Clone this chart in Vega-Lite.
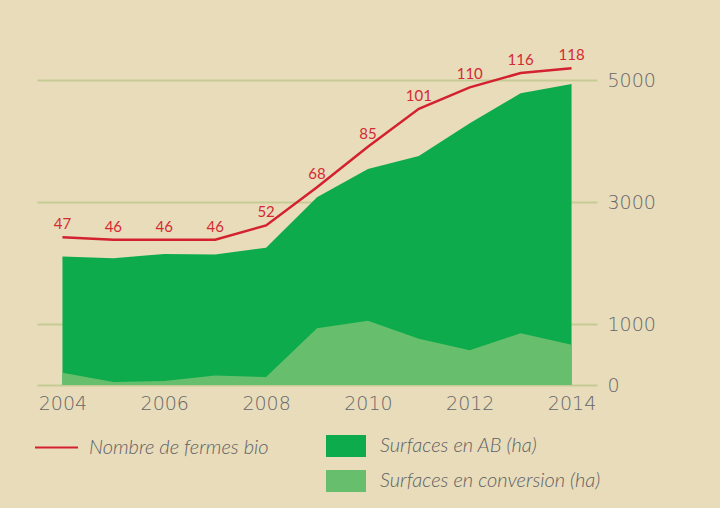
{
  "$schema": "https://vega.github.io/schema/vega-lite/v6.json",
  "width": 560,
  "height": 305,
  "autosize": {"type": "none"},
  "padding": {"left": 37, "top": 80, "right": 123, "bottom": 123},
  "background": "#E8DCBA",
  "config": {"view": {"stroke": null}},
  "data": {"values": [
    {"year": 2004, "ab": 2105, "conv": 200, "farms": 47},
    {"year": 2005, "ab": 2079, "conv": 49, "farms": 46},
    {"year": 2006, "ab": 2149, "conv": 65, "farms": 46},
    {"year": 2007, "ab": 2140, "conv": 157, "farms": 46},
    {"year": 2008, "ab": 2251, "conv": 130, "farms": 52},
    {"year": 2009, "ab": 3077, "conv": 930, "farms": 68},
    {"year": 2010, "ab": 3541, "conv": 1054, "farms": 85},
    {"year": 2011, "ab": 3754, "conv": 757, "farms": 101},
    {"year": 2012, "ab": 4290, "conv": 568, "farms": 110},
    {"year": 2013, "ab": 4781, "conv": 849, "farms": 116},
    {"year": 2014, "ab": 4934, "conv": 659, "farms": 118}
  ]},
  "encoding": {
    "x": {
      "field": "year", "type": "quantitative",
      "scale": {"domain": [2003.5, 2014.5], "nice": false, "zero": false},
      "axis": {
        "title": null, "values": [2004, 2006, 2008, 2010, 2012, 2014], "format": "d",
        "domain": false, "ticks": false, "grid": false,
        "labelFont": "DejaVu Sans", "labelFontWeight": 200, "labelFontSize": 19,
        "labelColor": "#66676B", "labelPadding": 9
      }
    }
  },
  "layer": [
    {
      "mark": {"type": "area", "opacity": 1},
      "encoding": {
        "y": {
          "field": "ab", "type": "quantitative",
          "scale": {"domain": [0, 5000], "nice": false},
          "axis": {
            "title": null, "orient": "right", "values": [0, 1000, 3000, 5000], "format": "d",
            "domain": false, "ticks": false, "grid": true,
            "gridColor": "#C6CB95", "gridWidth": 2,
            "labelFont": "DejaVu Sans", "labelFontWeight": 200, "labelFontSize": 19,
            "labelColor": "#66676B", "labelPadding": 10
          }
        },
        "color": {
          "datum": "Surfaces en AB (ha)",
          "scale": {"domain": ["Surfaces en AB (ha)", "Surfaces en conversion (ha)"], "range": ["#0DAB4B", "#67BF6D"]},
          "legend": {
            "title": null, "orient": "none", "legendX": 299, "legendY": 356,
            "direction": "vertical", "padding": 0,
            "symbolType": "M-2,-1.1H2V1.1H-2Z", "symbolSize": 400, "symbolOpacity": 1,
            "symbolStrokeWidth": 0,
            "labelFont": "Lato", "labelFontStyle": "italic", "labelFontWeight": 300,
            "labelFontSize": 20, "labelColor": "#606166", "labelOffset": 24,
            "rowPadding": 13, "labelLimit": 400
          }
        }
      }
    },
    {
      "mark": {"type": "area", "opacity": 1},
      "encoding": {
        "y": {
          "field": "conv", "type": "quantitative",
          "scale": {"domain": [0, 5000], "nice": false},
          "axis": null
        },
        "color": {"datum": "Surfaces en conversion (ha)"}
      }
    },
    {
      "mark": {"type": "line", "strokeWidth": 2.5},
      "encoding": {
        "y": {
          "field": "farms", "type": "quantitative",
          "scale": {"domain": [-15.06, 113.09], "nice": false, "zero": false},
          "axis": null
        },
        "stroke": {
          "datum": "Nombre de fermes bio",
          "scale": {"range": ["#D32130"]},
          "legend": {
            "title": null, "orient": "none", "legendX": -3, "legendY": 345,
            "padding": 0, "symbolType": "stroke", "symbolSize": 1849,
            "symbolStrokeWidth": 2,
            "labelFont": "Lato", "labelFontStyle": "italic", "labelFontWeight": 300,
            "labelFontSize": 20, "labelColor": "#606166", "labelOffset": 10,
            "labelLimit": 400
          }
        }
      }
    },
    {
      "mark": {"type": "text", "dy": -8, "baseline": "alphabetic", "align": "center",
               "font": "Lato", "fontSize": 15, "color": "#D42A33"},
      "encoding": {
        "y": {
          "field": "farms", "type": "quantitative",
          "scale": {"domain": [-15.06, 113.09], "nice": false, "zero": false},
          "axis": null
        },
        "text": {"field": "farms", "type": "quantitative"}
      }
    }
  ],
  "resolve": {"scale": {"y": "independent"}}
}
